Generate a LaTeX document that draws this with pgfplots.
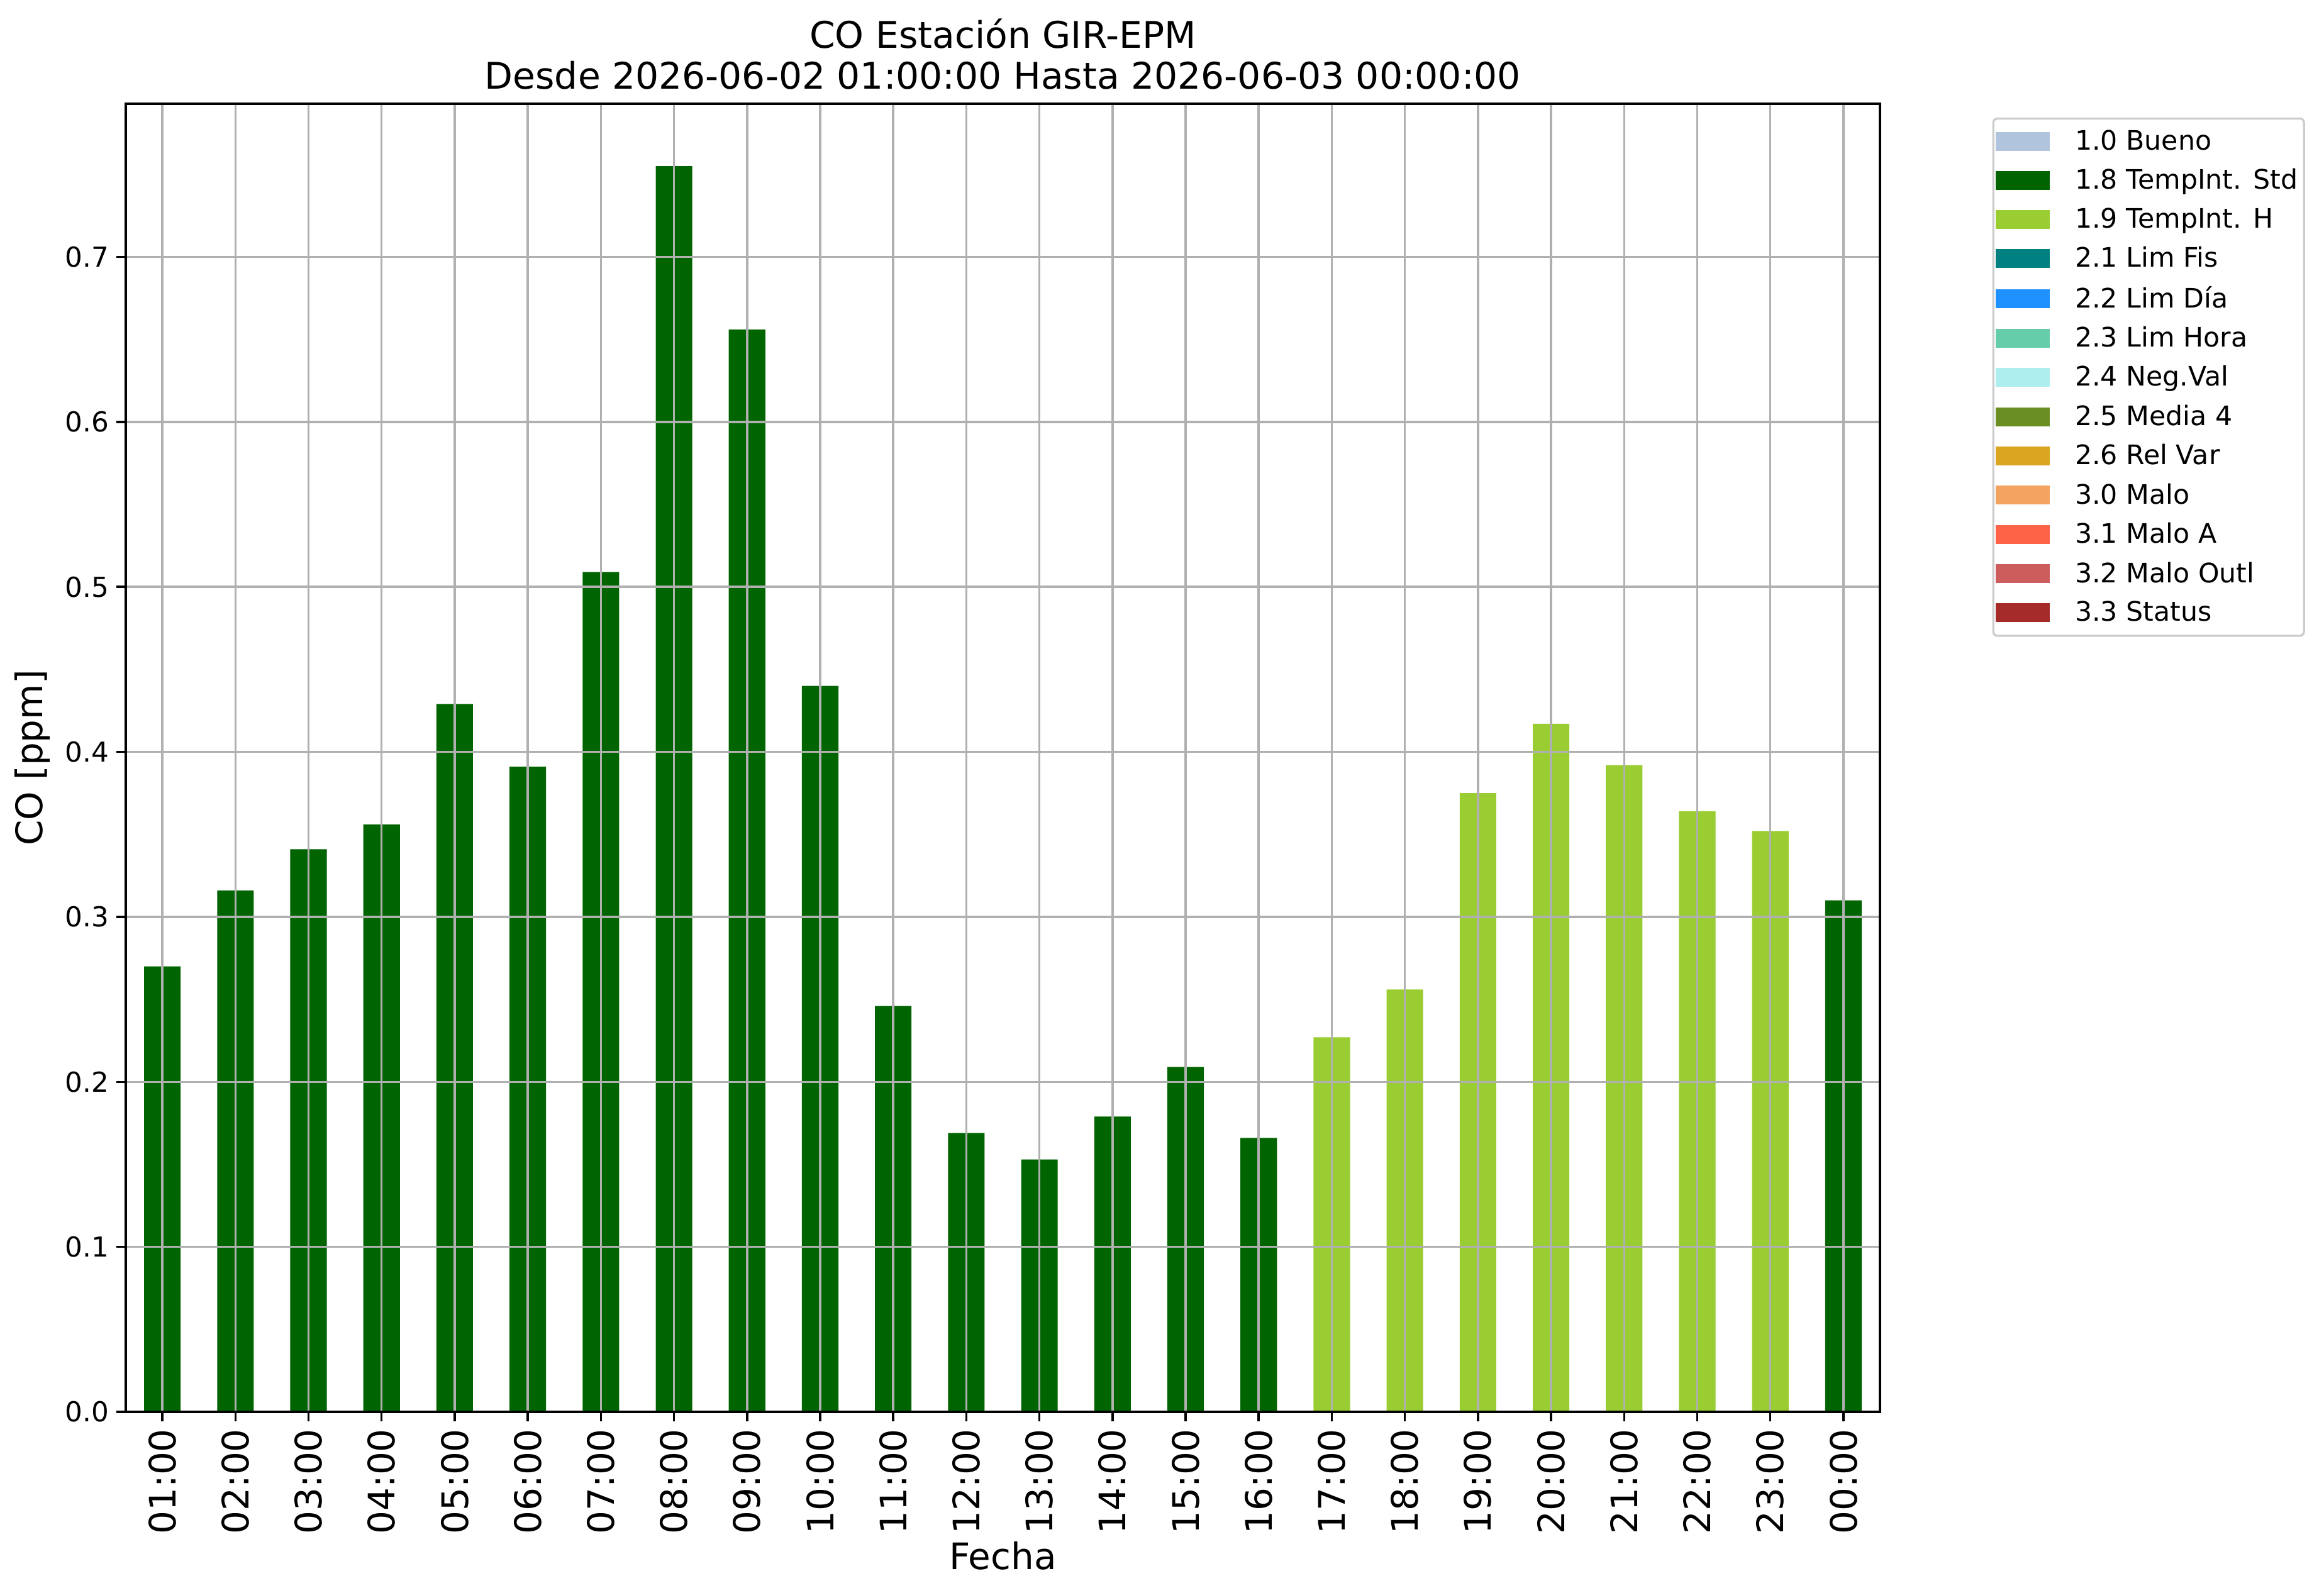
\documentclass[border=0pt]{standalone}
\usepackage{pgfplots}
\pgfplotsset{compat=1.18}
\usepackage{fontspec}
\setmainfont{DejaVu Sans}
\definecolor{cBueno}{HTML}{B0C4DE}
\definecolor{cStd}{HTML}{006400}
\definecolor{cH}{HTML}{9ACD32}
\definecolor{cFis}{HTML}{008080}
\definecolor{cDia}{HTML}{1E90FF}
\definecolor{cHora}{HTML}{66CDAA}
\definecolor{cNeg}{HTML}{AFEEEE}
\definecolor{cMedia}{HTML}{6B8E23}
\definecolor{cRel}{HTML}{DAA520}
\definecolor{cMalo}{HTML}{F4A460}
\definecolor{cMaloA}{HTML}{FF6347}
\definecolor{cOutl}{HTML}{CD5C5C}
\definecolor{cStatus}{HTML}{A52A2A}
\definecolor{gridgray}{HTML}{B0B0B0}
\pgfplotstableread{
x y
0 0.270
1 0.316
2 0.341
3 0.356
4 0.429
5 0.391
6 0.509
7 0.755
8 0.656
9 0.440
10 0.246
11 0.169
12 0.153
13 0.179
14 0.209
15 0.166
23 0.310
}\stdtable
\pgfplotstableread{
x y
16 0.227
17 0.256
18 0.375
19 0.417
20 0.392
21 0.364
22 0.352
}\htable
\begin{document}
\begin{tikzpicture}
\useasboundingbox (-60pt,-86.4pt) rectangle (1048.5pt,673.5pt);
\begin{axis}[
  name=ax,
  at={(0,0)}, anchor=south west,
  scale only axis,
  width=836.7pt, height=624pt,
  xmin=-0.5, xmax=23.5,
  ymin=0, ymax=0.7928,
  axis line style={line width=1.05pt},
  xtick={0,...,23},
  xticklabels={01:00,02:00,03:00,04:00,05:00,06:00,07:00,08:00,09:00,10:00,11:00,12:00,13:00,14:00,15:00,16:00,17:00,18:00,19:00,20:00,21:00,22:00,23:00,00:00},
  ytick={0,0.1,...,0.7},
  yticklabel style={font=\fontsize{13.1}{15}\selectfont, /pgf/number format/fixed, /pgf/number format/fixed zerofill, /pgf/number format/precision=1, /pgf/number format/assume math mode=true},
  xticklabel style={font=\fontsize{17.4}{20}\selectfont, rotate=90, anchor=east},
  xtick pos=lower, ytick pos=left,
  tick align=outside,
  major tick length=4.6pt,
  every tick/.style={black, line width=1.05pt},
  grid=major,
  major grid style={gridgray, line width=1.05pt},
  axis on top,
  xlabel={Fecha},
  ylabel={CO [ppm]},
  xlabel style={font=\fontsize{17.4}{20}\selectfont, at={(axis description cs:0.5,-0.110)}, anchor=center},
  ylabel style={font=\fontsize{17.4}{20}\selectfont, at={(axis description cs:-0.0531,0.5)}, anchor=center, rotate=0},
  legend style={at={(axis description cs:1.0640,0.9895)}, anchor=north west,
    font=\fontsize{12.8}{15}\selectfont,
    draw=black!20, line width=1pt, rounded corners=2pt,
    inner xsep=1pt, inner ysep=3.5pt,
    row sep=3.5pt,
    /tikz/every odd column/.append style={column sep=10pt},
    legend cell align=left},
  legend image code/.code={\fill[#1, draw=none, sharp corners] (0pt,-4.5pt) rectangle (26pt,4.5pt);},
]
\addlegendimage{fill=cBueno}
\addlegendimage{fill=cStd}
\addlegendimage{fill=cH}
\addlegendimage{fill=cFis}
\addlegendimage{fill=cDia}
\addlegendimage{fill=cHora}
\addlegendimage{fill=cNeg}
\addlegendimage{fill=cMedia}
\addlegendimage{fill=cRel}
\addlegendimage{fill=cMalo}
\addlegendimage{fill=cMaloA}
\addlegendimage{fill=cOutl}
\addlegendimage{fill=cStatus}
\legend{1.0 Bueno,1.8 TempInt. Std,1.9 TempInt. H,2.1 Lim Fis,2.2 Lim Día,2.3 Lim Hora,2.4 Neg.Val,2.5 Media 4,2.6 Rel Var,3.0 Malo,3.1 Malo A,3.2 Malo Outl,3.3 Status}
\addplot[ybar, bar width=0.5, fill=cStd, draw=none, forget plot] table[x=x,y=y] {\stdtable};
\addplot[ybar, bar width=0.5, fill=cH, draw=none, forget plot] table[x=x,y=y] {\htable};
\end{axis}
\node[anchor=base, font=\fontsize{17.5}{20}\selectfont, inner sep=0pt] at ([yshift=26.6pt]ax.north) {CO Estación GIR-EPM};
\node[anchor=base, font=\fontsize{17.5}{20}\selectfont, inner sep=0pt] at ([yshift=7.0pt]ax.north) {Desde 2026-06-02 01:00:00 Hasta 2026-06-03 00:00:00};
\end{tikzpicture}
\end{document}
